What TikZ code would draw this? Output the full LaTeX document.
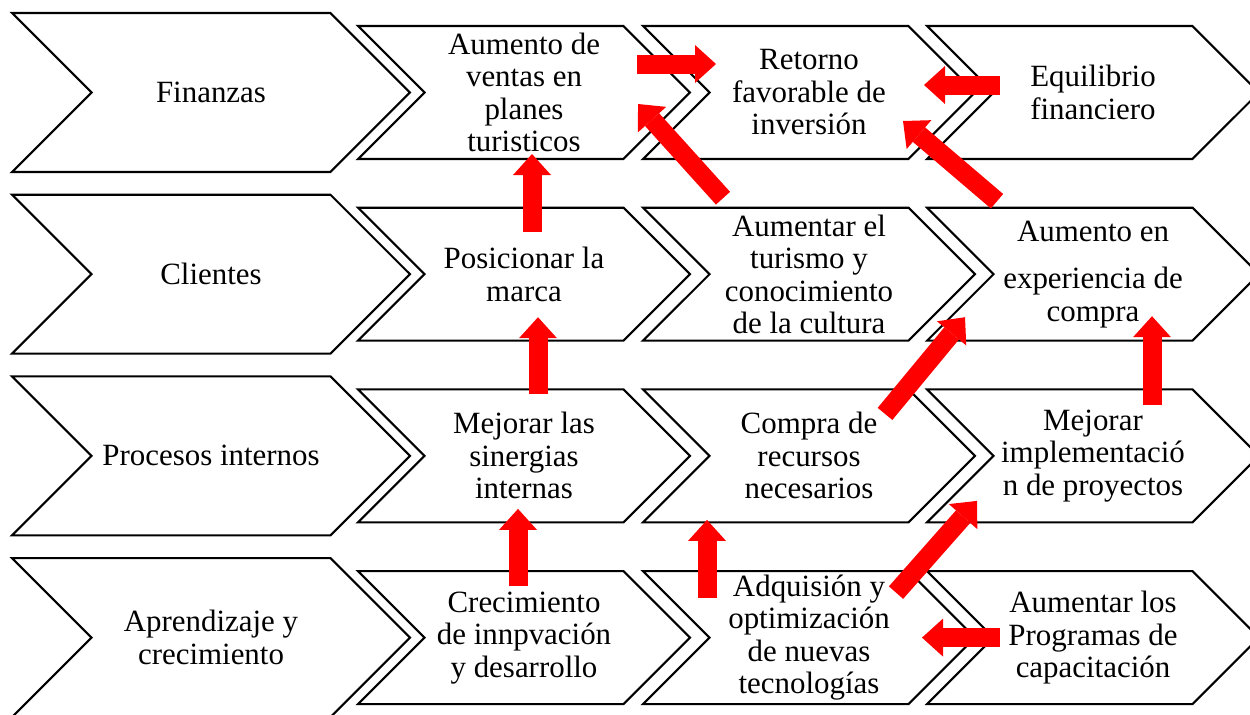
\documentclass[tikz,border=0pt]{standalone}
\usepackage{fontspec}
\setmainfont{Liberation Serif}
\usetikzlibrary{shapes.symbols,arrows.meta,calc}

\begin{document}
\begin{tikzpicture}[x=0.02cm, y=-0.02cm,
		etapa/.style={shape=signal, signal to=east, signal from=west, signal pointer angle=90,
			draw, line width=1.2pt, fill=white, align=center, inner sep=0pt,
			font=\fontsize{17.6}{18.5}\selectfont},
		perspectiva/.style={etapa, minimum width=7.96cm, minimum height=3.18cm},
		objetivo/.style={etapa, minimum width=6.64cm, minimum height=2.66cm},
		flecha/.style={draw=red, line width=0.38cm, -{Triangle[width=0.76cm, length=0.42cm, line width=0pt]}}
	]
	
	\useasboundingbox (0,0) rectangle (1250,714);
	
	% perspectivas
	\node[perspectiva] (fin) at (211,92.5)  {Finanzas};
	\node[perspectiva] (cli) at (211,274.2) {Clientes};
	\node[perspectiva] (pro) at (211,455.9) {Procesos internos};
	\node[perspectiva] (apr) at (211,637.6) {Aprendizaje y\\crecimiento};
	
	% objetivos
	\node[objetivo] (ventas)     at (524,92.5) {Aumento de\\ventas en\\planes\\turisticos};
	\node[objetivo] (retorno)    at (809,92.5) {Retorno\\favorable de\\inversión};
	\node[objetivo] (equilibrio) at (1093,92.5) {Equilibrio\\financiero};
	
	\node[objetivo] (marca)       at (524,274.2) {Posicionar la\\marca};
	\node[objetivo] (turismo)     at (809,274.2) {Aumentar el\\turismo y\\conocimiento\\de la cultura};
	\node[objetivo] (experiencia) at (1093,274.2) {Aumento en\\[0.3cm]experiencia de\\compra};
	
	\node[objetivo] (sinergias)      at (524,455.9) {Mejorar las\\sinergias\\internas};
	\node[objetivo] (compra)         at (809,455.9) {Compra de\\recursos\\necesarios};
	\node[objetivo] (implementacion) at (1093,455.9) {Mejorar\\implementació\\n de proyectos};
	
	\node[objetivo] (innovacion)   at (524,637.6) {Crecimiento\\de innpvación\\y desarrollo};
	\node[objetivo] (tecnologias)  at (809,637.6) {Adquisión y\\optimización\\de nuevas\\tecnologías};
	\node[objetivo] (capacitacion) at (1093,637.6) {Aumentar los\\Programas de\\capacitación};
	
	% relaciones causa-efecto
	\draw[flecha] ($(ventas)+(113,-28.5)$) -- ($(retorno)+(-93,-28.5)$);
	\draw[flecha] ($(equilibrio)+(-93,-7.5)$) -- ($(retorno)+(115,-7.5)$);
	\draw[flecha] ($(turismo)+(-86,-76)$) -- ($(ventas)+(114,11.5)$);
	\draw[flecha] ($(marca)+(8,-42)$) -- ($(ventas)+(8,61.5)$);
	\draw[flecha] ($(experiencia)+(-96,-73)$) -- ($(retorno)+(94,28.5)$);
	\draw[flecha] ($(sinergias)+(14,-62)$) -- ($(marca)+(14,43)$);
	\draw[flecha] ($(compra)+(76,-42)$) -- ($(experiencia)+(-128,43)$);
	\draw[flecha] ($(implementacion)+(59,-51)$) -- ($(experiencia)+(59,42)$);
	\draw[flecha] ($(innovacion)+(-6,-52)$) -- ($(sinergias)+(-6,53)$);
	\draw[flecha] ($(tecnologias)+(-102,-40)$) -- ($(compra)+(-102,64)$);
	\draw[flecha] ($(tecnologias)+(87,-45)$) -- ($(implementacion)+(-116,45)$);
	\draw[flecha] ($(capacitacion)+(-93,0)$) -- ($(tecnologias)+(113,0)$);
	
\end{tikzpicture}
\end{document}
